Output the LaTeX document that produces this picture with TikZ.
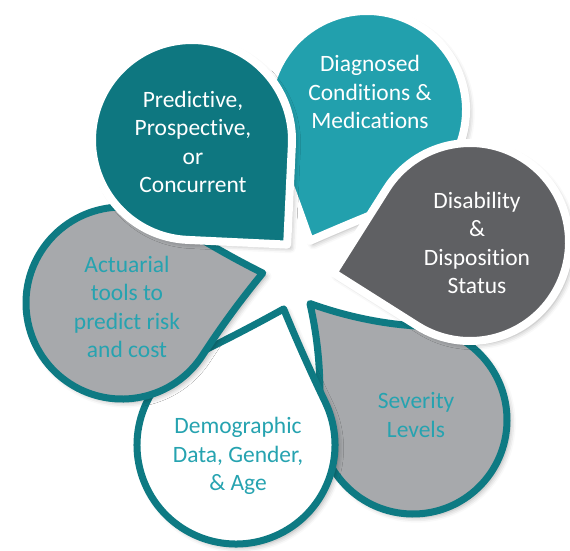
\documentclass[tikz,border=0pt]{standalone}
\usepackage{fontspec}
\setmainfont{Carlito}[Ligatures=NoCommon]
\usetikzlibrary{shadows.blur}

\tikzset{every picture/.style={line width=0.75pt}}
\tikzset{
  soft shadow/.style={blur shadow={shadow xshift=2.5pt, shadow yshift=-2.5pt, shadow blur radius=4pt, shadow opacity=35}},
  solid drop/.style={fill={#1}, draw=white, line width=6pt, line join=round, soft shadow},
  ring drop/.style={fill={#1}, draw={rgb, 255:red, 14; green, 122; blue, 131}, line width=5.25pt, line join=round, soft shadow},
  drop text/.style={align=center, inner sep=0.75pt, font=\fontsize{17.6}{21.4}\selectfont, text={#1}}
}

% teardrop: #1 centre, #2 radius, #3 turn of the tail, #4 tail stretch, #5 style
\newcommand{\drop}[5]{%
  \path [#5, shift={#1}, rotate=#3]
    (#2,0) arc [start angle=0, end angle=270, radius=#2]
    .. controls ({#2*#4/3},{-#2}) and ({2*#2*#4/3},{-(#2*#4+2*#2)/3}) .. ({#2*#4},{-#2*#4})
    .. controls ({(#2*#4+2*#2)/3},{-2*#2*#4/3}) and (#2,{-#2*#4/3}) .. (#2,0) -- cycle ;
}

\begin{document}
\begin{tikzpicture}[x=0.75pt,y=0.75pt,yscale=-1,xscale=1]
\useasboundingbox (0,0) rectangle (570,550);

%Shape: Teardrop [diagnosed]
\drop{(367,110)}{99}{158.6}{1.02}{solid drop={rgb, 255:red, 34; green, 160; blue, 173}}
%Shape: Teardrop [severity]
\drop{(413,420)}{94}{273.5}{1.17}{ring drop={rgb, 255:red, 167; green, 169; blue, 172}}
%Shape: Teardrop [demographic]
\drop{(236,445)}{99}{334.3}{1.03}{ring drop=white}
%Shape: Teardrop [actuarial]
\drop{(122,303)}{96}{33}{1.06}{ring drop={rgb, 255:red, 167; green, 169; blue, 172}}
%Shape: Teardrop [predictive]
\drop{(192,140)}{100}{92.7}{1.0}{solid drop={rgb, 255:red, 14; green, 119; blue, 128}}
%Shape: Teardrop [disability]
\drop{(470,242)}{99}{212.3}{1.0}{solid drop={rgb, 255:red, 95; green, 96; blue, 99}}

% Text Node
\draw (193,142) node [drop text=white] (predictive) {Predictive,\\Prospective,\\or\\Concurrent};
% Text Node
\draw (370,92) node [drop text=white] (diagnosed) {Diagnosed\\Conditions \&\\Medications};
% Text Node
\draw (477,243) node [drop text=white] (disability) {Disability\\\&\\Disposition\\Status};
% Text Node
\draw (416,415) node [drop text={rgb, 255:red, 38; green, 163; blue, 176}] (severity) {Severity\\Levels};
% Text Node
\draw (238,456) node [drop text={rgb, 255:red, 38; green, 163; blue, 176}] (demographic) {Demographic\\Data, Gender,\\\& Age};
% Text Node
\draw (127,307) node [drop text={rgb, 255:red, 38; green, 163; blue, 176}] (actuarial) {Actuarial\\tools to\\predict risk\\and cost};

\end{tikzpicture}
\end{document}
